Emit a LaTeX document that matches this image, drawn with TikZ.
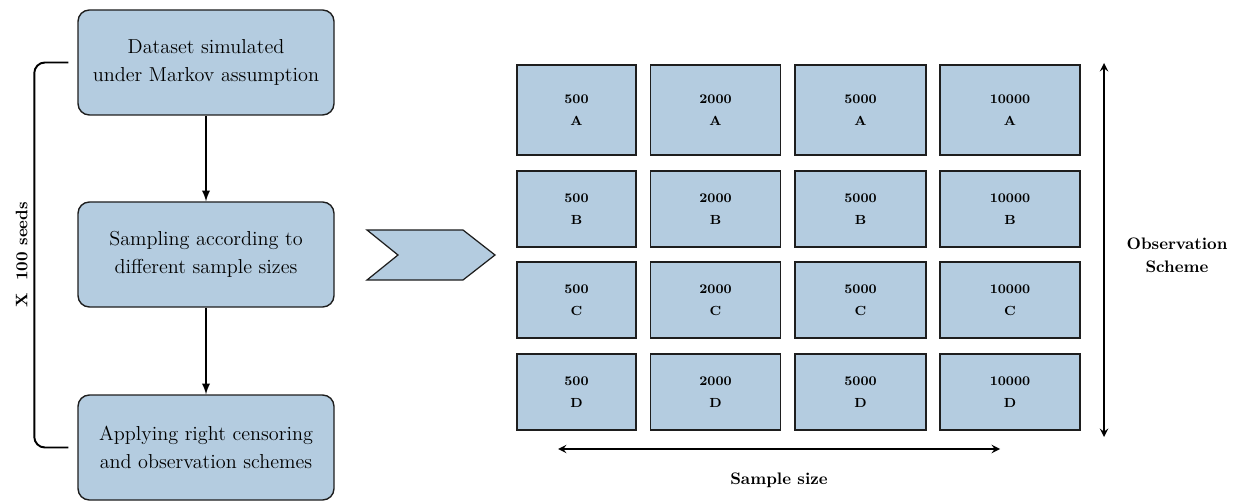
\documentclass[tikz,border=0pt]{standalone}
\usepackage{tikz}
\usetikzlibrary{arrows}
\definecolor{boxblue}{RGB}{180,204,224}
\definecolor{boxline}{RGB}{30,30,30}
\tikzset{stage/.style={rounded corners=6.5pt, draw=boxline, line width=0.8pt, fill=boxblue, align=center, minimum width=256*0.02cm, minimum height=105*0.02cm, font=\fontsize{11.5}{16}\selectfont}}
\tikzset{cell/.style={draw=boxline, line width=0.6pt, fill=boxblue, align=center, font=\fontsize{7.5}{12.5}\selectfont\bfseries}}
\tikzset{flow/.style={draw, -latex, line width=1.1pt}}
\tikzset{span/.style={draw, <->, >=stealth, line width=1.1pt}}
\tikzset{lbl/.style={align=center, font=\fontsize{9.5}{13}\selectfont\bfseries}}

\begin{document}
\begin{tikzpicture}[x=0.02cm, y=-0.02cm]
		\useasboundingbox (0,0) rectangle (1247,503);

		% left pipeline
		\node[stage] (data) at (206,62.5){Dataset simulated\\under Markov assumption};
		\node[stage] (sampling) at (206,254.5){Sampling according to\\different sample sizes};
		\node[stage] (censor) at (206,447.5){Applying right censoring\\and observation schemes};

		\draw[flow] (data) -- (sampling);
		\draw[flow] (sampling) -- (censor);

		\draw[line width=1.1pt, rounded corners=6pt] ([xshift=-0.18cm]data.west) -- ++(-34,0)
			-- ++(0,385) node[midway, rotate=90, above, lbl]{X~~100 seeds}
			-- ([xshift=-0.18cm]censor.west);

		% chevron
		\draw[boxline, line width=0.7pt, fill=boxblue] (367,230) -- (463,230) -- (495,255) -- (463,280) -- (367,280) -- (398,255) -- cycle;

		% grid of sample size x observation scheme
		\foreach \n/\cx/\w in {500/576.5/119, 2000/715.5/130, 5000/860.5/131, 10000/1010/140}
			\foreach \l/\cy/\h in {A/110/90, B/209/76, C/300/76, D/392/76}
				\node[cell, minimum width=\w*0.02cm, minimum height=\h*0.02cm] (c\n\l) at (\cx,\cy){\n\\\l};

		\coordinate (obsTop) at (1104,63);
		\coordinate (obsBot) at (1104,437);
		\coordinate (sizeL) at (558,449);
		\coordinate (sizeR) at (1000,449);
		\draw[span] (obsTop) -- (obsBot);
		\draw[span] (sizeL) -- (sizeR);

		\node[lbl] (obs) at (1177,255){Observation\\Scheme};
		\node[lbl] (size) at (779,480){Sample size};
	\end{tikzpicture}
\end{document}
